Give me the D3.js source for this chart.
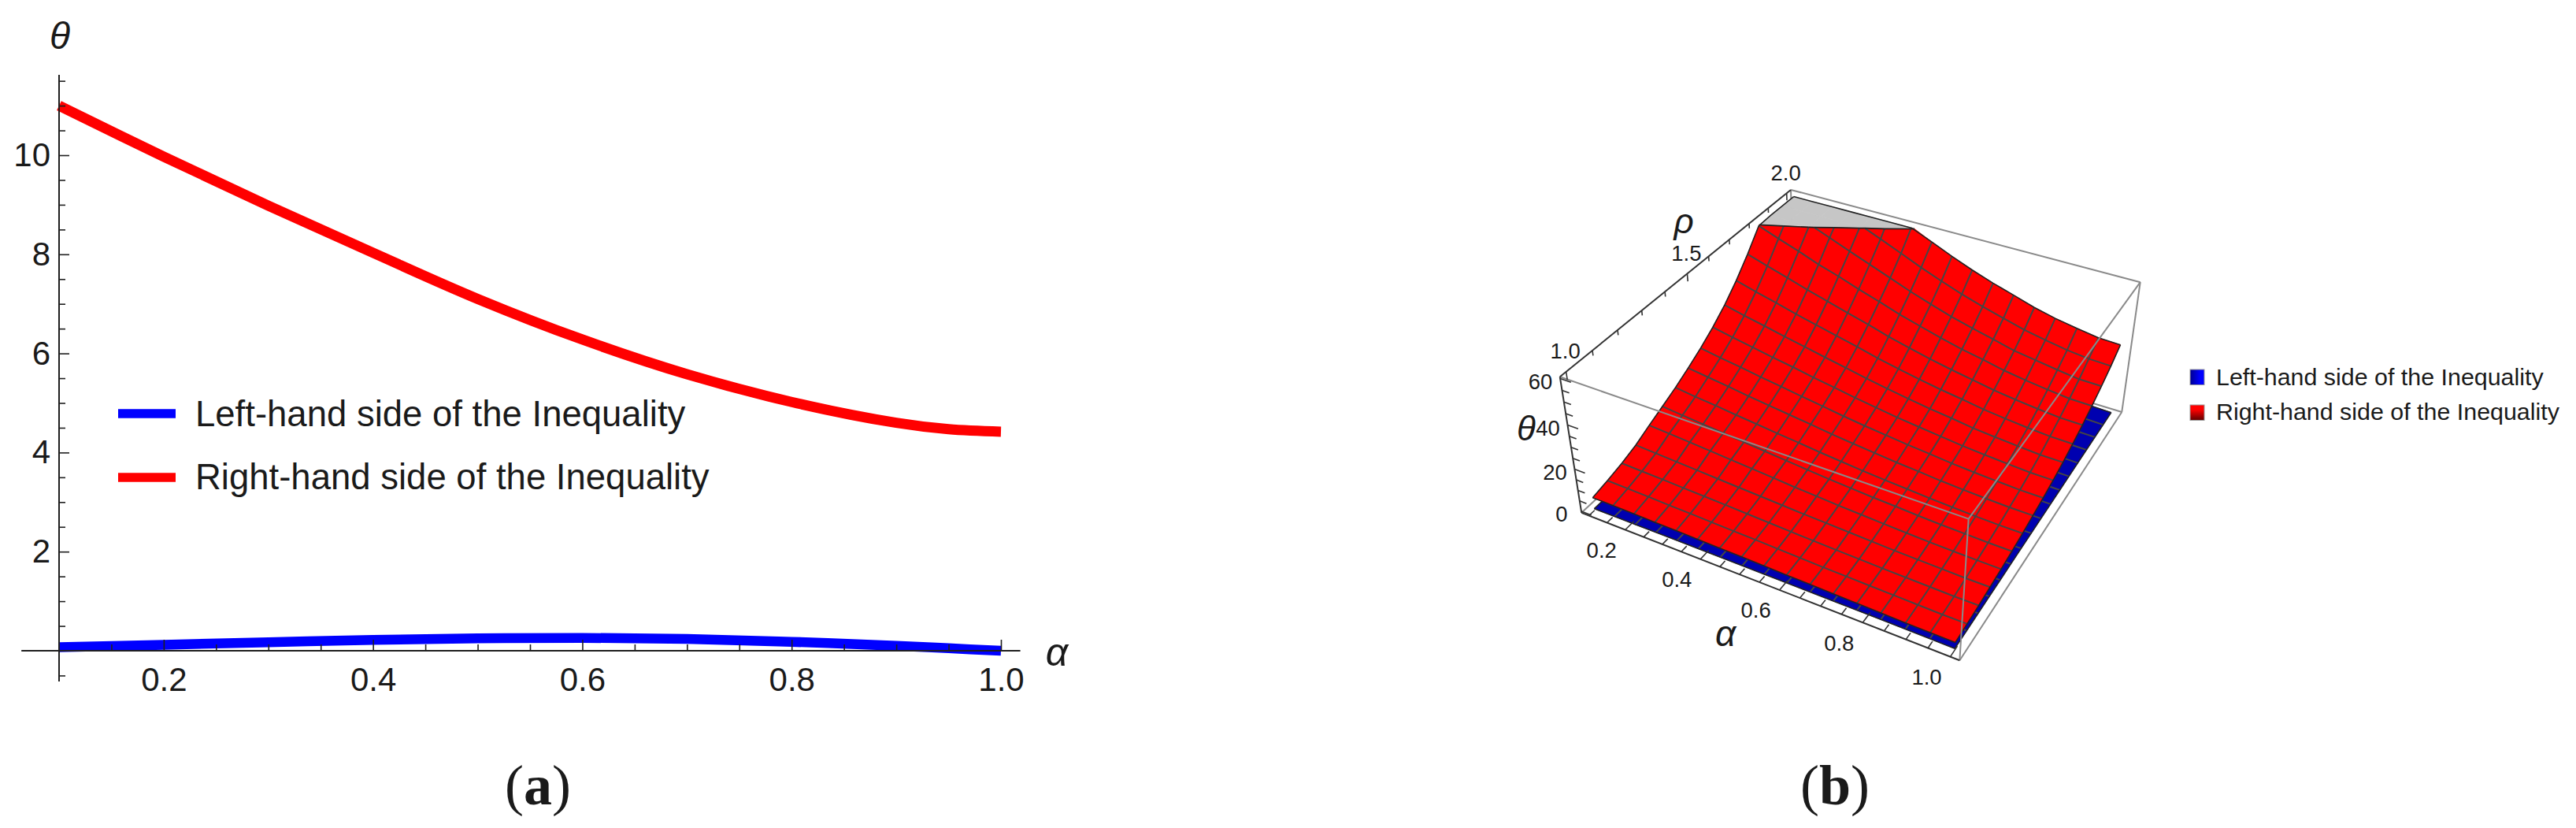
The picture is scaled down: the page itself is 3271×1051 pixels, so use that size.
<!DOCTYPE html>
<html><head><meta charset="utf-8">
<script src="https://cdn.jsdelivr.net/npm/d3@7"></script>
<style>html,body{margin:0;padding:0;background:#fff;overflow:hidden}svg{display:block}text{font-family:"Liberation Sans",Arial,sans-serif;fill:#1a1a1a}</style>
</head><body><svg id="c" width="3271" height="1051"></svg>
<script>
// ---------- data: panel (a)
const alpha2D = [0.1,0.2,0.3,0.4,0.5,0.6,0.7,0.8,0.9,0.95,1.0];
const leftHand2D = [0.07,0.12,0.17,0.22,0.25,0.26,0.24,0.18,0.1,0.05,0.0];
const rightHand2D = [11.0,9.97,8.98,8.03,7.1,6.28,5.58,5.02,4.6,4.47,4.42];
const xMajor2D = [0.2,0.4,0.6,0.8,1.0];
const yMajor2D = [2,4,6,8,10];
const seriesNames = ["Left-hand side of the Inequality","Right-hand side of the Inequality"];
// ---------- data: panel (b), rows = rho, columns = alpha
const alphaGrid = [0.1,0.156,0.213,0.269,0.325,0.381,0.438,0.494,0.55,0.606,0.663,0.719,0.775,0.831,0.888,0.944,1.0];
const rhoGrid = [1,1.0625,1.125,1.1875,1.25,1.3125,1.375,1.4375,1.5,1.5625,1.625,1.6875,1.75,1.8125,1.875,1.9375,2];
const rightHand3D = [
[5.4,5.3,5.2,5.0,4.9,4.7,4.5,4.4,4.2,4.0,3.8,3.6,3.4,3.2,3.0,2.9,2.8],
[6.8,6.6,6.4,6.1,5.9,5.6,5.3,5.1,4.8,4.5,4.2,4.0,3.8,3.6,3.4,3.2,3.2],
[8.5,8.2,7.9,7.5,7.2,6.8,6.4,6.0,5.6,5.2,4.9,4.6,4.3,4.1,3.9,3.7,3.7],
[10.8,10.3,9.8,9.3,8.8,8.3,7.8,7.3,6.8,6.4,6.0,5.6,5.2,4.9,4.7,4.4,4.4],
[14.0,13.4,12.7,12.0,11.3,10.6,9.8,9.0,8.4,7.7,7.2,6.7,6.2,5.8,5.5,5.3,5.2],
[17.0,16.0,15.1,14.2,13.3,12.4,11.5,10.6,9.8,9.1,8.4,7.9,7.3,6.8,6.5,6.2,6.1],
[20.1,18.9,17.9,16.7,15.7,14.6,13.6,12.5,11.6,10.7,9.9,9.3,8.6,8.1,7.6,7.3,7.2],
[23.7,22.4,21.1,19.7,18.5,17.3,16.1,14.8,13.7,12.7,11.7,11.0,10.1,9.5,9.0,8.6,8.5],
[27.6,26.0,24.6,23.0,21.6,20.1,18.7,17.2,15.9,14.8,13.7,12.8,11.8,11.1,10.5,10.0,9.9],
[32.1,30.2,28.5,26.7,25.1,23.3,21.7,20.0,18.5,17.1,15.9,14.8,13.7,12.9,12.2,11.6,11.5],
[37.4,35.2,33.2,31.1,29.2,27.2,25.3,23.3,21.6,20.0,18.5,17.3,15.9,15.0,14.2,13.5,13.4],
[43.8,41.3,38.9,36.4,34.2,31.9,29.7,27.3,25.3,23.4,21.7,20.3,18.7,17.6,16.6,15.9,15.7],
[51.3,48.4,45.6,42.7,40.1,37.4,34.8,32.0,29.6,27.4,25.4,23.7,21.9,20.6,19.5,18.6,18.4],
[59.7,56.3,53.1,49.6,46.7,43.4,40.4,37.2,34.5,31.9,29.5,27.6,25.5,24.0,22.7,21.6,21.4],
[68.0,64.3,60.8,57.2,53.5,50.0,46.4,42.8,39.6,36.6,34.0,31.7,29.3,27.8,26.3,25.0,24.8],
[76.0,72.0,68.0,64.2,60.8,57.0,53.0,49.0,45.4,42.0,39.0,36.3,33.7,31.8,30.1,29.0,28.6],
[88.6,83.7,78.9,73.8,69.5,65.1,60.6,56.1,52.0,48.3,44.9,42.0,39.0,36.7,34.9,33.4,33.0]];
const leftHand3D = [
[.07,.09,.12,.15,.18,.20,.21,.22,.23,.23,.22,.19,.16,.13,.08,.04,0],
[.08,.10,.13,.17,.20,.22,.23,.24,.25,.25,.24,.21,.18,.14,.09,.04,0],
[.08,.11,.14,.18,.22,.24,.25,.26,.28,.28,.26,.23,.19,.16,.10,.05,0],
[.09,.12,.16,.20,.23,.26,.27,.29,.30,.30,.29,.25,.21,.17,.10,.05,0],
[.11,.14,.18,.23,.27,.30,.32,.33,.35,.35,.33,.29,.24,.20,.12,.06,0],
[.12,.15,.20,.26,.31,.34,.36,.37,.39,.39,.37,.32,.27,.22,.14,.07,0],
[.13,.17,.23,.29,.34,.38,.40,.42,.44,.44,.42,.36,.30,.25,.15,.08,0],
[.15,.20,.26,.33,.40,.44,.46,.48,.51,.51,.48,.42,.35,.29,.18,.09,0],
[.18,.23,.30,.38,.45,.50,.53,.55,.58,.58,.55,.48,.40,.33,.20,.10,0],
[.20,.26,.35,.44,.52,.58,.61,.64,.67,.67,.64,.55,.46,.38,.23,.12,0],
[.23,.30,.40,.50,.59,.66,.69,.73,.76,.76,.73,.63,.53,.43,.26,.13,0],
[.27,.34,.46,.57,.68,.76,.80,.84,.87,.87,.84,.72,.61,.49,.30,.15,0],
[.31,.40,.53,.66,.79,.88,.92,.97,1.01,1.01,.97,.84,.70,.57,.35,.18,0],
[.35,.45,.60,.75,.90,1.0,1.05,1.1,1.15,1.15,1.1,.95,.8,.65,.4,.2,0],
[.41,.52,.70,.87,1.04,1.16,1.22,1.28,1.33,1.33,1.28,1.10,.93,.75,.46,.23,0],
[.47,.60,.80,1.0,1.21,1.34,1.41,1.47,1.54,1.54,1.47,1.27,1.07,.87,.54,.27,0],
[.54,.69,.92,1.16,1.39,1.54,1.62,1.69,1.77,1.77,1.69,1.46,1.23,1.0,.62,.31,0]];
const alphaMajor3D = [0.2,0.4,0.6,0.8,1.0];
const rhoMajor3D = [1.0,1.5,2.0];
const thetaMajor3D = [0,20,40,60];
const thetaClip = 60;

const svg = d3.select("#c");
const line = d3.line();
const AX = "#1f1f1f";
function txt(g,x,y,s,size,opts={}){
  const t=g.append("text").attr("x",x).attr("y",y).attr("font-size",size).attr("text-anchor",opts.anchor||"middle").attr("dominant-baseline",opts.base||"central").text(s);
  if(opts.italic)t.attr("font-style","italic");
  return t;
}

// ========== panel (a)
(function(){
  const g=svg.append("g");
  const x=d3.scaleLinear().domain([0.1,1]).range([75,1271]);
  const y=d3.scaleLinear().domain([0,10]).range([826,197]);
  const path=d3.line().x((d,i)=>x(alpha2D[i])).y(d=>y(d)).curve(d3.curveCatmullRom.alpha(0.5));
  g.append("path").attr("d",path(rightHand2D)).attr("fill","none").attr("stroke","#ff0000").attr("stroke-width",13);
  g.append("path").attr("d",path(leftHand2D)).attr("fill","none").attr("stroke","#0000ff").attr("stroke-width",12.5);

  const xMinor=d3.range(0.15,1.0,0.05).map(v=>+v.toFixed(2)).filter(v=>!xMajor2D.includes(v));
  const yMinor=d3.range(-0.5,11.6,0.5).filter(v=>v!==0&&!yMajor2D.includes(v));
  const styleAxis=s=>{s.selectAll(".domain").remove();s.selectAll("line").attr("stroke",AX).attr("stroke-width",1.6);};
  g.append("g").attr("transform",`translate(0,${y(0)})`).call(d3.axisBottom(x).tickValues(xMinor).tickSize(-8).tickFormat("")).call(styleAxis);
  g.append("g").attr("transform",`translate(0,${y(0)})`).call(d3.axisBottom(x).tickValues(xMajor2D).tickSize(-14).tickPadding(21).tickFormat(d3.format(".1f"))).call(styleAxis)
    .selectAll("text").attr("font-size",42).attr("font-family","Liberation Sans").attr("fill","#1a1a1a");
  g.append("g").attr("transform",`translate(${x(0.1)},0)`).call(d3.axisLeft(y).tickValues(yMinor).tickSize(-8).tickFormat("")).call(styleAxis);
  g.append("g").attr("transform",`translate(${x(0.1)},0)`).call(d3.axisLeft(y).tickValues(yMajor2D).tickSize(-13).tickPadding(11)).call(styleAxis)
    .selectAll("text").attr("font-size",42).attr("font-family","Liberation Sans").attr("fill","#1a1a1a");
  g.append("path").attr("d",line([[x(0.064),y(0)],[x(1.0185),y(0)]])).attr("stroke",AX).attr("stroke-width",2);
  g.append("path").attr("d",line([[x(0.1),y(11.62)],[x(0.1),y(-0.62)]])).attr("stroke",AX).attr("stroke-width",2);

  txt(g,76,45,"θ",48,{italic:true});
  txt(g,1342,828,"α",50,{italic:true});
  [["#0000ff",525,525],["#ff0000",606,605]].forEach((d,i)=>{
    g.append("path").attr("d",line([[150,d[1]],[223,d[1]]])).attr("stroke",d[0]).attr("stroke-width",11.5);
    txt(g,248,d[2],seriesNames[i],45.5,{anchor:"start"});
  });
  const cap=txt(g,683,997,"",72);cap.attr("font-family","Liberation Serif");
  cap.append("tspan").attr("font-family","Liberation Serif").text("(");
  cap.append("tspan").attr("font-family","Liberation Serif").attr("font-weight","bold").text("a");
  cap.append("tspan").attr("font-family","Liberation Serif").text(")");
})();

// ========== panel (b)
(function(){
  const g=svg.append("g");
  // box corners in unit cube and where the picture puts them; camera is fitted to these
  const anchors=[[0,0,0,2008,651],[1,0,0,2489,838],[0,0,1,1981,478],[1,0,1,2499,659],[0,1,1,2274,241],[1,1,0,2694,523],[1,1,1,2718,358]];
  function solve(A,b){
    const n=b.length,M=A.map((r,i)=>[...r,b[i]]);
    for(let c=0;c<n;c++){
      let p=c;for(let r=c+1;r<n;r++)if(Math.abs(M[r][c])>Math.abs(M[p][c]))p=r;
      [M[c],M[p]]=[M[p],M[c]];
      for(let r=0;r<n;r++){if(r===c)continue;const f=M[r][c]/M[c][c];for(let k=c;k<=n;k++)M[r][k]-=f*M[c][k];}
    }
    return M.map((r,i)=>r[n]/r[i]);
  }
  const rows=[],rhs=[];
  anchors.forEach(([u,v,w,px,py])=>{
    const X=px/1000,Y=py/1000;
    rows.push([u,v,w,1,0,0,0,0,-X*u,-X*v,-X*w]);rhs.push(X);
    rows.push([0,0,0,0,u,v,w,1,-Y*u,-Y*v,-Y*w]);rhs.push(Y);
  });
  const ATA=d3.range(11).map(i=>d3.range(11).map(j=>d3.sum(rows,r=>r[i]*r[j])));
  const ATb=d3.range(11).map(i=>d3.sum(rows,(r,k)=>r[i]*rhs[k]));
  const P=solve(ATA,ATb);
  const cube=(u,v,w)=>{const d=P[8]*u+P[9]*v+P[10]*w+1;return [1000*(P[0]*u+P[1]*v+P[2]*w+P[3])/d,1000*(P[4]*u+P[5]*v+P[6]*w+P[7])/d];};
  const su=d3.scaleLinear().domain([0.1,1]).range([0.022,0.978]);
  const sv=d3.scaleLinear().domain([1,2]).range([0.022,0.978]);
  const sw=d3.scaleLinear().domain([0,60]).range([0.012,0.988]);
  const proj=p=>cube(su(p[0]),sv(p[1]),sw(p[2]));

  const seg=(a,b,stroke,width)=>g.append("path").attr("d",line([cube(...a),cube(...b)])).attr("fill","none").attr("stroke",stroke).attr("stroke-width",width);
  const BOX="#8a8a8a";
  [[[0,0,0],[0,1,0]],[[0,1,0],[1,1,0]],[[0,1,0],[0,1,1]],[[0,1,1],[1,1,1]],[[1,1,1],[1,1,0]]].forEach(e=>seg(e[0],e[1],BOX,2));

  function clip(poly,keep){
    const inside=p=>keep==="below"?p[2]<=thetaClip:p[2]>=thetaClip;
    const out=[],cross=[];
    poly.forEach((a,i)=>{
      const b=poly[(i+1)%poly.length];
      if(inside(a))out.push(a);
      if((a[2]-thetaClip)*(b[2]-thetaClip)<0){
        const t=(thetaClip-a[2])/(b[2]-a[2]);
        const c=[a[0]+t*(b[0]-a[0]),a[1]+t*(b[1]-a[1]),thetaClip];
        out.push(c);cross.push(c);
      }
    });
    return {out,cross};
  }
  function surface(table,color){
    const G=g.append("g");
    const pt=(i,j)=>[alphaGrid[i],rhoGrid[j],table[j][i]];
    const cells=[];
    for(let j=rhoGrid.length-2;j>=0;j--)for(let i=0;i<alphaGrid.length-1;i++)cells.push([pt(i,j),pt(i+1,j),pt(i+1,j+1),pt(i,j+1)]);
    const caps=[],bodies=[],crossings=[];
    cells.forEach(c=>{
      const lo=clip(c,"below");if(lo.out.length>2)bodies.push(lo.out);
      if(lo.cross.length===2)crossings.push(lo.cross);
      const hi=clip(c,"above");if(hi.out.length>2)caps.push(hi.out.map(p=>[p[0],p[1],thetaClip]));
    });
    const poly=p=>line(p.map(proj))+"Z";
    G.append("g").selectAll("path").data(caps).join("path").attr("d",poly).attr("fill","#c6c6c6").attr("stroke","#c6c6c6").attr("stroke-width",0.7);
    G.append("g").selectAll("path").data(bodies).join("path").attr("d",poly).attr("fill",color).attr("stroke",color).attr("stroke-width",0.7);
    const lineClip=pts=>{const res=[];let cur=[];
      for(let k=0;k<pts.length;k++){
        const p=pts[k];
        if(p[2]<=thetaClip)cur.push(p);
        if(k<pts.length-1){const q=pts[k+1];
          if((p[2]-thetaClip)*(q[2]-thetaClip)<0){const t=(thetaClip-p[2])/(q[2]-p[2]);const c=[p[0]+t*(q[0]-p[0]),p[1]+t*(q[1]-p[1]),thetaClip];
            cur.push(c);if(p[2]<=thetaClip){res.push(cur);cur=[];}}
        }
      }
      if(cur.length>1)res.push(cur);return res;};
    const mesh=[];
    for(let i=1;i<alphaGrid.length-1;i++)mesh.push(...lineClip(rhoGrid.map((_,j)=>pt(i,j))));
    for(let j=1;j<rhoGrid.length-1;j++)mesh.push(...lineClip(alphaGrid.map((_,i)=>pt(i,j))));
    G.append("g").selectAll("path").data(mesh).join("path").attr("d",d=>line(d.map(proj))).attr("fill","none").attr("stroke","#454545").attr("stroke-width",2);
    const last=alphaGrid.length-1,top=rhoGrid.length-1;
    const capAt=p=>[p[0],p[1],Math.min(p[2],thetaClip)];
    const edges=[alphaGrid.map((_,i)=>capAt(pt(i,0))),alphaGrid.map((_,i)=>capAt(pt(i,top))),rhoGrid.map((_,j)=>capAt(pt(0,j))),rhoGrid.map((_,j)=>capAt(pt(last,j)))];
    G.append("g").selectAll("path").data(edges.concat(crossings)).join("path").attr("d",d=>line(d.map(proj))).attr("fill","none").attr("stroke","#222").attr("stroke-width",1.6);
  }
  surface(leftHand3D,"#0000b0");
  surface(rightHand3D,"#ff0000");

  [[[0,0,1],[1,0,1]],[[1,0,1],[1,1,1]],[[1,0,0],[1,0,1]],[[1,0,0],[1,1,0]]].forEach(e=>seg(e[0],e[1],BOX,2));
  const DK="#333";
  [[[0,0,0],[1,0,0]],[[0,0,0],[0,0,1]],[[0,0,1],[0,1,1]]].forEach(e=>seg(e[0],e[1],DK,2));

  const tick=(a,b)=>g.append("path").attr("d",line([cube(...a),cube(...b)])).attr("stroke",DK).attr("stroke-width",1.6).attr("fill","none");
  const label=(p,dx,dy,s)=>txt(g,p[0]+dx,p[1]+dy,s,27.5);
  d3.range(0.1,1.001,0.05).forEach(a=>{const major=alphaMajor3D.some(m=>Math.abs(m-a)<1e-6);
    tick([su(a),0,0],[su(a),major?0.035:0.022,0]);});
  alphaMajor3D.forEach(a=>label(cube(su(a),0,0),-30,26,a.toFixed(1)));
  d3.range(1,2.001,0.1).forEach(r=>{const major=rhoMajor3D.some(m=>Math.abs(m-r)<1e-6);
    tick([0,sv(r),1],[0,sv(r),major?0.945:0.965]);});
  rhoMajor3D.forEach(r=>label(cube(0,sv(r),1),-1,-26,r.toFixed(1)));
  d3.range(0,60.01,5).forEach(t=>{const major=thetaMajor3D.includes(Math.round(t));
    tick([0,0,sw(t)],[major?0.03:0.02,0,sw(t)]);});
  thetaMajor3D.forEach(t=>label(cube(0,0,sw(t)),-25,4,String(t)));

  txt(g,2138,280,"ρ",44,{italic:true});
  txt(g,1938,543,"θ",44,{italic:true});
  txt(g,2191,804,"α",46,{italic:true});

  const defs=svg.append("defs");
  const gb=defs.append("linearGradient").attr("id","sb").attr("x1",0).attr("x2",1).attr("y1",0).attr("y2",0);
  gb.append("stop").attr("offset",0).attr("stop-color","#000090");gb.append("stop").attr("offset",0.7).attr("stop-color","#0000ff");
  const gr=defs.append("linearGradient").attr("id","sr").attr("x1",0).attr("x2",0).attr("y1",0).attr("y2",1);
  gr.append("stop").attr("offset",0.3).attr("stop-color","#ff0000");gr.append("stop").attr("offset",1).attr("stop-color","#600000");
  [["url(#sb)",469,478],["url(#sr)",514,522]].forEach((d,i)=>{
    g.append("rect").attr("x",2781).attr("y",d[1]).attr("width",18).attr("height",19.5).attr("fill",d[0]).attr("stroke","#999").attr("stroke-width",1);
    txt(g,2814,d[2],seriesNames[i],30.4,{anchor:"start"});
  });
  const cap=txt(g,2330,997,"",72);cap.attr("font-family","Liberation Serif");
  cap.append("tspan").attr("font-family","Liberation Serif").text("(");
  cap.append("tspan").attr("font-family","Liberation Serif").attr("font-weight","bold").text("b");
  cap.append("tspan").attr("font-family","Liberation Serif").text(")");
})();
</script></body></html>
